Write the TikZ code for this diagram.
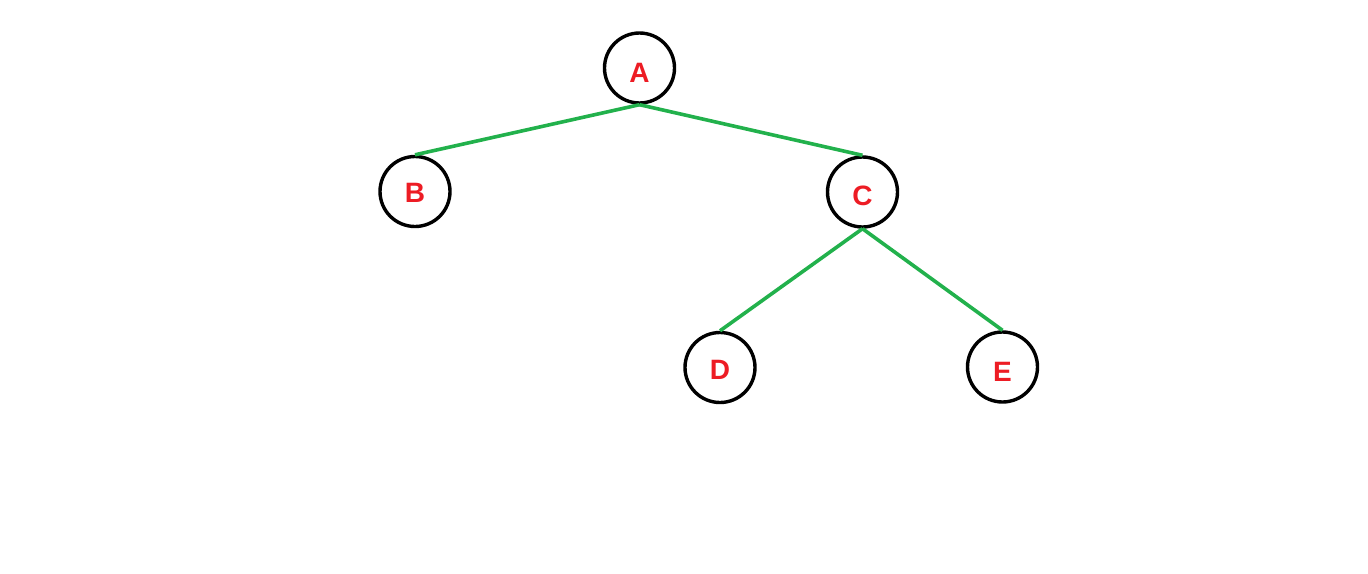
\documentclass[tikz,border=0pt]{standalone}
\usepackage{fontspec}
\setmainfont{Liberation Sans}
\definecolor{nodered}{HTML}{ED1C24}
\definecolor{edgegreen}{HTML}{22B14C}
\begin{document}
\begin{tikzpicture}[x=1pt,y=-1pt,
  vert/.style={circle,draw=black,line width=3.4pt,minimum size=70pt,inner sep=0pt,
    text height=20pt,text depth=0pt,
    font=\fontsize{28}{28}\selectfont\bfseries,text=nodered},
  edge/.style={draw=edgegreen,line width=3.6pt}]
\useasboundingbox (0,0) rectangle (1368,573);
\node[vert] (A) at (639.5,68) {\raisebox{-4pt}{A}};
\node[vert] (B) at (415,191.5) {\raisebox{-1pt}{B}};
\node[vert] (C) at (862.5,192) {\raisebox{-3pt}{C}};
\node[vert] (D) at (720,367.5) {\raisebox{-2pt}{D}};
\node[vert] (E) at (1002.5,367) {\raisebox{-4pt}{E}};
\draw[edge] (A.south) -- (B.north);
\draw[edge] (A.south) -- (C.north);
\draw[edge] (C.south) -- (D.north);
\draw[edge] (C.south) -- (E.north);
\end{tikzpicture}
\end{document}
